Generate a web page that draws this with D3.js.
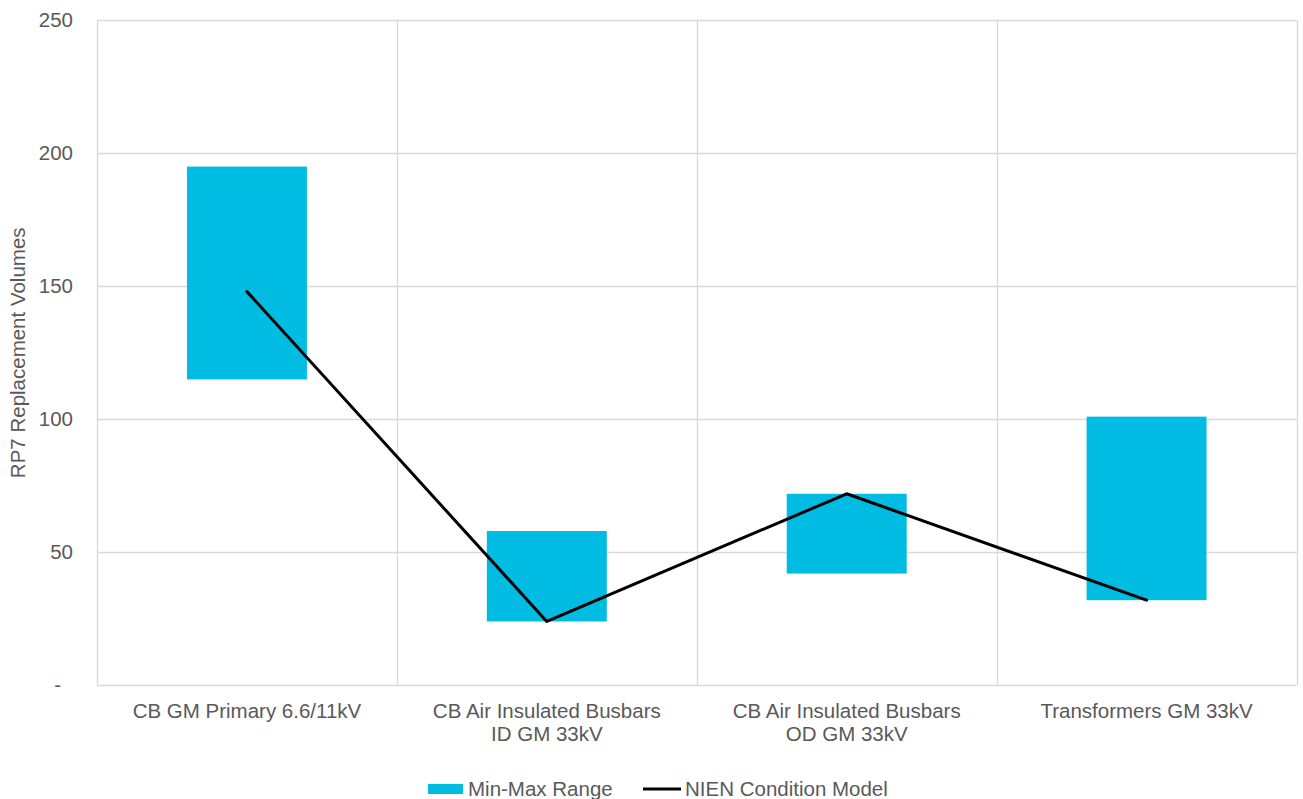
<!DOCTYPE html>
<html>
<head>
<meta charset="utf-8">
<script src="https://cdn.jsdelivr.net/npm/d3@7"></script>
<style>
  html, body { margin: 0; padding: 0; background: #fff; }
  svg { display: block; font-family: "Liberation Sans", Arial, sans-serif; }
</style>
</head>
<body>
<svg id="chart" width="1303" height="799"></svg>
<script>
const categories = [
  ["CB GM Primary 6.6/11kV"],
  ["CB Air Insulated Busbars", "ID GM 33kV"],
  ["CB Air Insulated Busbars", "OD GM 33kV"],
  ["Transformers GM 33kV"]
];
const rangeMin = [115, 24, 42, 32];
const rangeMax = [195, 58, 72, 101];
const conditionModel = [148, 24, 72, 32];
const yTicks = [0, 50, 100, 150, 200, 250];
const yTickLabels = ["-", "50", "100", "150", "200", "250"];
const seriesNames = ["Min-Max Range", "NIEN Condition Model"];

const W = 1303, H = 799;
const margin = { left: 97, right: 1296.5, top: 20.3, bottom: 685.3 };
const textColor = "#595959", gridColor = "#d9d9d9", barColor = "#00bce2";
const fs = 20.5;

const svg = d3.select("#chart");
const idx = categories.map((d, i) => i);

const x = d3.scaleBand().domain(idx).range([margin.left, margin.right]).paddingInner(0).paddingOuter(0);
const y = d3.scaleLinear().domain([0, 250]).range([margin.bottom, margin.top]);

// horizontal gridlines
svg.append("g").selectAll("line").data(yTicks).join("line")
  .attr("x1", margin.left).attr("x2", margin.right)
  .attr("y1", d => Math.round(y(d)) + 0.5).attr("y2", d => Math.round(y(d)) + 0.5)
  .attr("stroke", gridColor).attr("stroke-width", 1.3);

// vertical gridlines at category boundaries
const bounds = idx.map(i => x(i)).concat([margin.right]);
svg.append("g").selectAll("line").data(bounds).join("line")
  .attr("x1", d => Math.round(d) + 0.5).attr("x2", d => Math.round(d) + 0.5)
  .attr("y1", margin.top).attr("y2", margin.bottom)
  .attr("stroke", gridColor).attr("stroke-width", 1.3);

// y axis labels
svg.append("g").selectAll("text").data(yTicks).join("text")
  .attr("x", 73).attr("y", d => y(d))
  .attr("dx", (d, i) => yTickLabels[i] === "-" ? -12 : 0)
  .attr("dy", "0.35em")
  .attr("text-anchor", "end")
  .attr("fill", textColor).attr("font-size", fs)
  .text((d, i) => yTickLabels[i]);

// y title
svg.append("text")
  .attr("transform", `translate(25,${(margin.top + margin.bottom) / 2}) rotate(-90)`)
  .attr("text-anchor", "middle")
  .attr("fill", textColor).attr("font-size", fs)
  .text("RP7 Replacement Volumes");

// bars (floating range)
const barW = x.bandwidth() * 0.4;
svg.append("g").selectAll("rect").data(idx).join("rect")
  .attr("x", i => x(i) + x.bandwidth() / 2 - barW / 2)
  .attr("width", barW)
  .attr("y", i => y(rangeMax[i]))
  .attr("height", i => y(rangeMin[i]) - y(rangeMax[i]))
  .attr("fill", barColor);

// line
const line = d3.line().x(i => x(i) + x.bandwidth() / 2).y(i => y(conditionModel[i]));
svg.append("path").datum(idx)
  .attr("d", line)
  .attr("fill", "none").attr("stroke", "#000").attr("stroke-width", 3)
  .attr("stroke-linejoin", "round").attr("stroke-linecap", "round");

// category labels
const cat = svg.append("g").selectAll("text").data(idx).join("text")
  .attr("x", i => x(i) + x.bandwidth() / 2)
  .attr("y", 717.5)
  .attr("text-anchor", "middle")
  .attr("fill", textColor).attr("font-size", fs);
cat.selectAll("tspan").data(i => categories[i]).join("tspan")
  .attr("x", function () { return this.parentNode.getAttribute("x"); })
  .attr("dy", (d, j) => j === 0 ? 0 : 23)
  .text(d => d);

// legend
const leg = svg.append("g");
leg.append("rect").attr("x", 428).attr("y", 784).attr("width", 35).attr("height", 10).attr("fill", barColor);
leg.append("text").attr("x", 468).attr("y", 796).attr("fill", textColor).attr("font-size", fs).text(seriesNames[0]);
leg.append("line").attr("x1", 643).attr("x2", 681).attr("y1", 789).attr("y2", 789)
  .attr("stroke", "#000").attr("stroke-width", 3);
leg.append("text").attr("x", 685).attr("y", 796).attr("fill", textColor).attr("font-size", fs).text(seriesNames[1]);
</script>
</body>
</html>
